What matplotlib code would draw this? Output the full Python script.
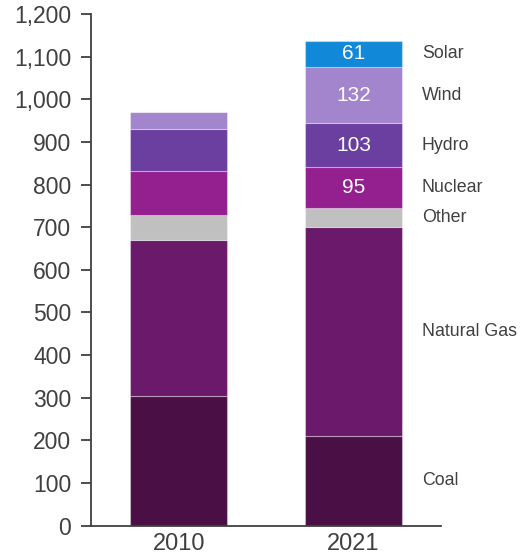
import numpy as np
import matplotlib.pyplot as plt

plt.rcParams['font.family'] = ['Liberation Sans', 'DejaVu Sans']

years = ['2010', '2021']
sources = ['Coal', 'Natural Gas', 'Other', 'Nuclear', 'Hydro', 'Wind', 'Solar']
coal = [305, 210]
natural_gas = [364, 491]
other = [60, 45]
nuclear = [102, 95]
hydro = [100, 103]
wind = [38, 132]
solar = [1, 61]

colors = ['#4a1045', '#6b196a', '#c0c0c0', '#93208e', '#6a3fa0', '#a385cd', '#1289d8']
# only the newer bar gets values printed inside
labelled = ['Nuclear', 'Hydro', 'Wind', 'Solar']

series = [coal, natural_gas, other, nuclear, hydro, wind, solar]

fig = plt.figure(figsize=(5.29, 5.57), dpi=100)
ax = fig.add_axes([0.1726, 0.0562, 0.6611, 0.9187])

x = np.arange(len(years))
width = 0.555
bottom = np.zeros(len(years))
for name, vals, col in zip(sources, series, colors):
    vals = np.array(vals, dtype=float)
    ax.bar(x, vals, width, bottom=bottom, color=col,
           edgecolor=(1, 1, 1, 0.35), linewidth=0.8)
    mid = bottom + vals / 2
    if name in labelled:
        ax.text(x[1], mid[1], f'{int(vals[1])}', ha='center', va='center',
                color='white', fontsize=15)
    # series name to the right of the 2021 bar
    ax.text(1.39, mid[1], name, ha='left', va='center',
            color='#404040', fontsize=12.8, clip_on=False)
    bottom += vals

ax.set_xlim(-0.5, 1.5)
ax.set_ylim(0, 1200)
ax.set_yticks(np.arange(0, 1201, 100))
ax.set_yticklabels([f'{v:,}' for v in range(0, 1201, 100)])
ax.set_xticks(x)
ax.set_xticklabels(years)

for s in ['top', 'right']:
    ax.spines[s].set_visible(False)
for s in ['left', 'bottom']:
    ax.spines[s].set_color('#404040')
    ax.spines[s].set_linewidth(1.3)

ax.tick_params(axis='y', length=7, width=1.3, color='#404040',
               labelsize=16.5, labelcolor='#404040', pad=7.5)
ax.tick_params(axis='x', length=0, labelsize=17, labelcolor='#404040', pad=5)

fig.savefig('out.png', dpi=100)
